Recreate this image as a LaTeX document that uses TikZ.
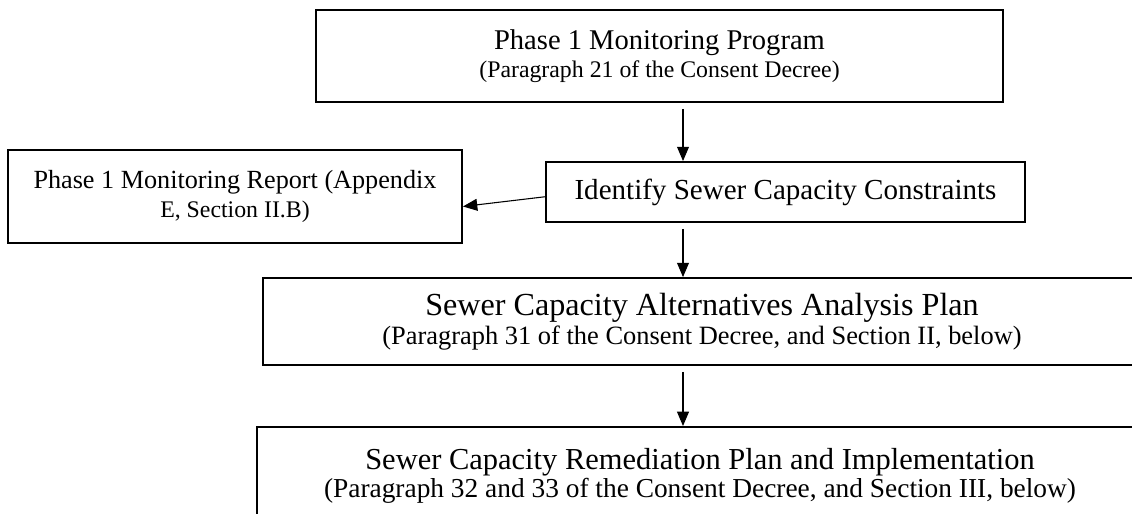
\documentclass[tikz,border=0pt]{standalone}
\usepackage{fontspec}
\setmainfont{Liberation Serif}
\usetikzlibrary{arrows.meta, positioning}

\begin{document}
\begin{tikzpicture}[x=0.42pt, y=-0.42pt,
        stage/.style={draw, line width=0.8pt, align=center, inner sep=0pt},
        flow/.style={-{Triangle[length=6pt, width=5pt]}, line width=0.45pt}]
        \clip (0,0) rectangle (1132,514);
        \coordinate (axis) at (683,0); % common line of the downward arrows

        \node [stage, minimum width=288.5pt, minimum height=38.6pt] (program) at (659.5,56)
            {\fontsize{12}{17}\selectfont Phase 1 Monitoring Program\\
             \fontsize{10}{14}\selectfont (Paragraph 21 of the Consent Decree)};
        \node [stage, minimum width=201.2pt, minimum height=25.2pt] (constraints) at (785.5,192)
            {\fontsize{12.2}{14}\selectfont Identify Sewer Capacity Constraints};
        \node [stage, minimum width=190.7pt, minimum height=39pt] (report) at (235,196.5)
            {\fontsize{11}{14.5}\selectfont Phase 1 Monitoring Report (Appendix\\
             E, Section II.B)};
        \node [stage, minimum width=368.8pt, minimum height=36.5pt] (alternatives) at (702,321.5)
            {\fontsize{13.5}{13}\selectfont Sewer Capacity Alternatives Analysis Plan\\
             \fontsize{11.1}{13}\selectfont (Paragraph 31 of the Consent Decree, and Section II, below)};
        \node [stage, minimum width=372pt, minimum height=41.2pt] (remediation) at (700,476)
            {\fontsize{12.8}{13.5}\selectfont Sewer Capacity Remediation Plan and Implementation\\
             \fontsize{11.5}{13.5}\selectfont (Paragraph 32 and 33 of the Consent Decree, and Section III, below)};

        \draw [flow] ([yshift=-2.5pt]program.south -| axis) -- (constraints.north -| axis);
        \draw [flow] ([yshift=-2pt]constraints.west) -- ([yshift=-4.2pt]report.east); % side result
        \draw [flow] ([yshift=-2.5pt]constraints.south -| axis) -- (alternatives.north -| axis);
        \draw [flow] ([yshift=-2.5pt]alternatives.south -| axis) -- (remediation.north -| axis);
\end{tikzpicture}
\end{document}
